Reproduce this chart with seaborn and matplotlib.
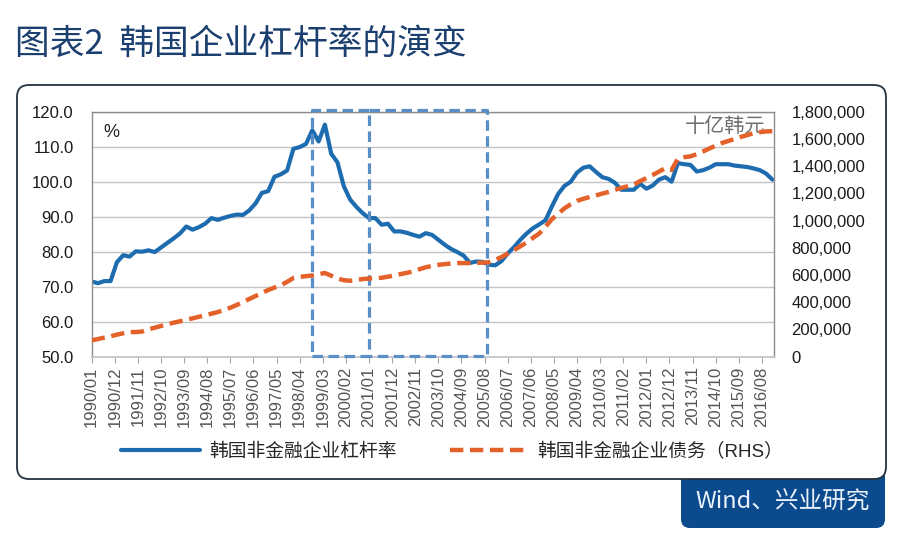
import matplotlib
matplotlib.use("Agg")
import matplotlib.pyplot as plt
from matplotlib.patches import FancyBboxPatch
from matplotlib.ticker import FuncFormatter
import seaborn as sns
import pandas as pd

# quarterly data, 1990Q1 .. 2017Q1 (x = months since 1990/01)
leverage = [
    71.5, 71.0, 71.6, 71.6, 77.0, 79.0, 78.6, 80.1, 80.0, 80.4,
    79.9, 81.2, 82.5, 83.8, 85.2, 87.2, 86.3, 87.0, 88.0, 89.6,
    89.1, 89.7, 90.2, 90.6, 90.5, 91.8, 93.8, 96.8, 97.3, 101.4,
    102.1, 103.2, 109.4, 109.9, 110.8, 114.7, 111.5, 116.3, 108.0, 105.5,
    98.7, 94.9, 92.8, 91.0, 89.6, 89.6, 87.7, 88.0, 85.8, 85.8,
    85.4, 84.8, 84.3, 85.3, 84.8, 83.4, 82.0, 80.8, 79.9, 78.9,
    76.8, 77.2, 77.1, 76.3, 76.1, 77.3, 79.5, 81.3, 83.4, 85.2,
    86.7, 87.8, 89.0, 92.9, 96.5, 98.8, 100.0, 102.6, 104.0, 104.4,
    102.8, 101.3, 100.8, 99.7, 97.7, 97.7, 97.7, 99.4, 98.0, 98.9,
    100.6, 101.3, 100.0, 105.3, 105.0, 104.8, 102.9, 103.3, 104.0, 105.0,
    105.0, 105.0, 104.6, 104.4, 104.2, 103.8, 103.3, 102.3, 100.6,
]
debt_thousands = [
    120, 130, 140, 150, 162, 172, 181, 181, 185, 200,
    213, 226, 238, 250, 260, 271, 282, 293, 305, 316,
    328, 343, 360, 380, 401, 424, 446, 468, 490, 508,
    525, 550, 578, 586, 592, 597, 606, 615, 595, 575,
    562, 558, 563, 571, 574, 577, 580, 588, 597, 607,
    616, 627, 643, 657, 667, 675, 680, 685, 688, 688,
    688, 689, 691, 694, 710, 732, 757, 783, 811, 839,
    873, 905, 955, 1010, 1050, 1090, 1120, 1145, 1160, 1173,
    1185, 1198, 1210, 1225, 1240, 1252, 1264, 1290, 1312, 1335,
    1360, 1385, 1372, 1455, 1466, 1472, 1488, 1508, 1530, 1550,
    1570, 1585, 1600, 1615, 1628, 1643, 1650, 1655, 1657,
]
debt = [v * 1000 for v in debt_thousands]
months = [3 * i for i in range(len(leverage))]

tick_months = list(range(0, 320, 11))
tick_labels = [f"{1990 + m // 12}/{m % 12 + 1:02d}" for m in tick_months]

# highlighted periods (start, end) as "YYYY/MM"
periods = [("1998/10", "2001/01"), ("2001/01", "2005/09")]


def to_month(s):
    y, m = s.split("/")
    return (int(y) - 1990) * 12 + int(m) - 1


df = pd.DataFrame({"month": months, "leverage": leverage, "debt": debt})

sns.set_theme(style="white")
plt.rcParams["font.family"] = ["Liberation Sans", "Noto Sans CJK SC", "DejaVu Sans"]

BLUE = "#1E6CB0"
ORANGE = "#E4612A"
NAVY = "#0C4A8E"
BOXC = "#5A8EC6"

fig = plt.figure(figsize=(9.05, 5.36), dpi=100)

# background layer in pixel coordinates
bg = fig.add_axes([0, 0, 1, 1], zorder=0)
bg.set_xlim(0, 905)
bg.set_ylim(536, 0)
bg.axis("off")
bg.add_patch(FancyBboxPatch((681, 455), 204, 73, boxstyle="round,pad=0,rounding_size=9",
                            fc=NAVY, ec="none"))
bg.add_patch(FancyBboxPatch((17, 85), 869, 394, boxstyle="round,pad=0,rounding_size=12",
                            fc="white", ec="#24333f", lw=1.3))
bg.text(15, 44, "图表2  韩国企业杠杆率的演变", fontsize=25, color="#1B3F6E",
        ha="left", va="center", family=["Noto Sans CJK SC", "DejaVu Sans"])
bg.text(783, 502, "Wind、兴业研究", fontsize=17, color="#EAF2FB",
        ha="center", va="center", family=["Noto Sans CJK SC", "DejaVu Sans"])

ax = fig.add_axes([0.1013, 0.3345, 0.7534, 0.4571], zorder=2)
ax.set_facecolor("none")
sns.lineplot(data=df, x="month", y="leverage", ax=ax, color=BLUE, lw=3.0, legend=False)
ax.set_xlim(0, 324.5)
ax.set_ylim(50, 120)
ax.set_yticks(range(50, 121, 10))
ax.yaxis.set_major_formatter(FuncFormatter(lambda v, p: f"{v:.1f}"))
ax.grid(axis="y", color="#C4C4C4", lw=1)
ax.set_xticks(tick_months)
ax.set_xticklabels(tick_labels, rotation=90, fontsize=12, color="#555555")
ax.tick_params(axis="x", direction="out", length=4, width=0.8, color="#A6A6A6", pad=3, bottom=True)
ax.tick_params(axis="y", length=0, pad=13, labelsize=12, labelcolor="#1a1a1a")
ax.set_xlabel("")
ax.set_ylabel("")
for side in ["left", "top", "right"]:
    ax.spines[side].set_color("#8C8C8C")
    ax.spines[side].set_linewidth(1)
ax.spines["bottom"].set_color("#C4C4C4")

# dashed boxes; a side shared with the previous box is drawn only once
y_lo, y_hi = 50.2, 120.6
prev_end = None
for start, end in periods:
    x0, x1 = to_month(start), to_month(end)
    if prev_end == x0:
        xs, ys = [x0, x1, x1, x0], [y_hi, y_hi, y_lo, y_lo]
    else:
        xs, ys = [x0, x1, x1, x0, x0], [y_lo, y_lo, y_hi, y_hi, y_lo]
    ax.plot(xs, ys, color=BOXC, lw=2.3, ls=(0, (3.3, 1.7)), clip_on=False, zorder=5)
    prev_end = x1

ax2 = ax.twinx()
sns.lineplot(data=df, x="month", y="debt", ax=ax2, color=ORANGE, lw=3.2, legend=False)
ax2.lines[0].set_linestyle((0, (3, 1.5)))
ax2.set_ylim(0, 1800000)
ax2.set_yticks(range(0, 1800001, 200000))
ax2.yaxis.set_major_formatter(FuncFormatter(lambda v, p: f"{int(v):,}"))
ax2.tick_params(axis="y", length=0, pad=13, labelsize=12, labelcolor="#1a1a1a")
ax2.set_ylabel("")
ax2.grid(False)
for s in ax2.spines.values():
    s.set_visible(False)

ax.text(0.017, 0.915, "%", transform=ax.transAxes, fontsize=13, color="#222222",
        ha="left", va="center")
ax.text(0.988, 0.942, "十亿韩元", transform=ax.transAxes, fontsize=14.5, color="#6E6E6E",
        ha="right", va="center")

handles = [ax.lines[0], ax2.lines[0]]
labels = ["韩国非金融企业杠杆率", "韩国非金融企业债务（RHS）"]
fig.legend(handles, labels, loc="center", bbox_to_anchor=(0.50, 0.157), ncol=2,
           frameon=False, fontsize=13.5, handlelength=4.2, columnspacing=2.8,
           handletextpad=0.5)

fig.savefig("out.png", dpi=100)
